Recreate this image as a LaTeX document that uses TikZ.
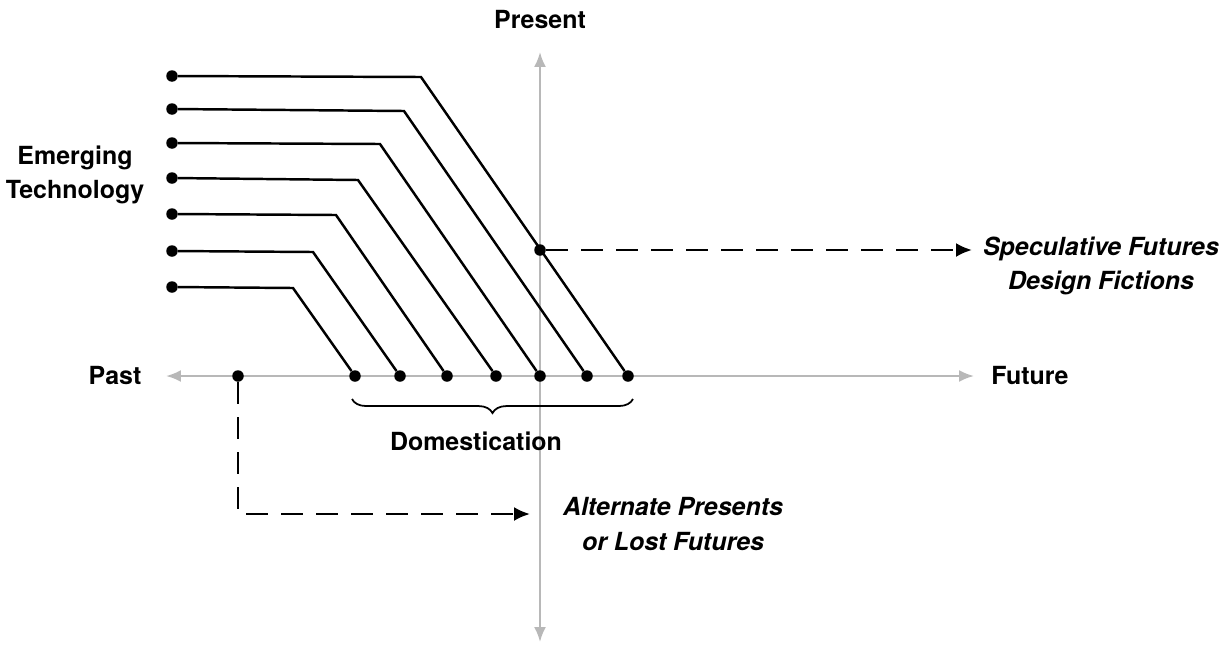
\documentclass[tikz,border=0pt]{standalone}
\usepackage{fontspec}
\setmainfont{TeX Gyre Heros}
\usetikzlibrary{arrows.meta,decorations.pathreplacing}

\begin{document}
\begin{tikzpicture}[x=0.02cm,y=-0.02cm,
    dotnode/.style={circle, fill=black, inner sep=0pt, minimum size=2.3mm},
    lbl/.style={font=\fontsize{14.2}{19.5}\selectfont\bfseries, align=center, inner sep=0pt},
    ilbl/.style={font=\fontsize{14.2}{19.5}\selectfont\bfseries\itshape, align=center, inner sep=0pt},
    axisline/.style={draw=black!28, line width=1.3pt, {Latex[length=3mm,width=2.4mm]}-{Latex[length=3mm,width=2.4mm]}},
    tline/.style={line width=1.4pt},
    dline/.style={line width=1.4pt, dash pattern=on 0.44cm off 0.26cm}]
    \useasboundingbox (0,0) rectangle (1227,646);

    % axes
    \coordinate (top) at (540,52);
    \coordinate (bot) at (540,642);
    \coordinate (lft) at (166,376);
    \coordinate (rgt) at (974,376);
    \draw[axisline] (top) -- (bot);
    \draw[axisline] (lft) -- (rgt);

    \node[lbl] (present) at (540,20) {Present};
    \node[lbl] (past) at (115,376) {Past};
    \node[lbl] (future) at (1030,376) {Future};
    \node[lbl] (emerging) at (75,175) {Emerging\\Technology};

    % technologies
    \node[dotnode] (t1) at (172,76) {};
    \node[dotnode] (t2) at (172,109) {};
    \node[dotnode] (t3) at (172,143) {};
    \node[dotnode] (t4) at (172,178) {};
    \node[dotnode] (t5) at (172,214) {};
    \node[dotnode] (t6) at (172,251) {};
    \node[dotnode] (t7) at (172,287) {};

    \coordinate (b1) at (421,77);
    \coordinate (b2) at (404,111);
    \coordinate (b3) at (380,144);
    \coordinate (b4) at (358,180);
    \coordinate (b5) at (336,215);
    \coordinate (b6) at (313,252);
    \coordinate (b7) at (293,288);

    \node[dotnode] (d1) at (628,376) {};
    \node[dotnode] (d2) at (587,376) {};
    \node[dotnode] (d3) at (540,376) {};
    \node[dotnode] (d4) at (496,376) {};
    \node[dotnode] (d5) at (447,376) {};
    \node[dotnode] (d6) at (400,376) {};
    \node[dotnode] (d7) at (355,376) {};

    \draw[tline] (t1) -- (b1) -- (d1);
    \draw[tline] (t2) -- (b2) -- (d2);
    \draw[tline] (t3) -- (b3) -- (d3);
    \draw[tline] (t4) -- (b4) -- (d4);
    \draw[tline] (t5) -- (b5) -- (d5);
    \draw[tline] (t6) -- (b6) -- (d6);
    \draw[tline] (t7) -- (b7) -- (d7);

    % domestication
    \draw[line width=1pt, decorate, decoration={brace, mirror, amplitude=8pt}]
        (352,399) -- (633,399);
    \node[lbl] (domest) at (476,441) {Domestication};

    % speculative futures
    \node[dotnode] (spec) at (540,250) {};
    \coordinate (specend) at (972,250);
    \draw[dline, -{Latex[length=3.2mm,width=2.8mm]}] (spec) -- (specend);
    \node[ilbl] (fiction) at (1101,266) {Speculative Futures\\Design Fictions};

    % alternate presents
    \node[dotnode] (pastdot) at (238,376) {};
    \coordinate (corner) at (238,514);
    \coordinate (altend) at (530,514);
    \draw[dline, -{Latex[length=3.2mm,width=2.8mm]}] (pastdot) -- (corner) -- (altend);
    \node[ilbl] (alternate) at (673,524) {Alternate Presents\\or Lost Futures};

\end{tikzpicture}
\end{document}
